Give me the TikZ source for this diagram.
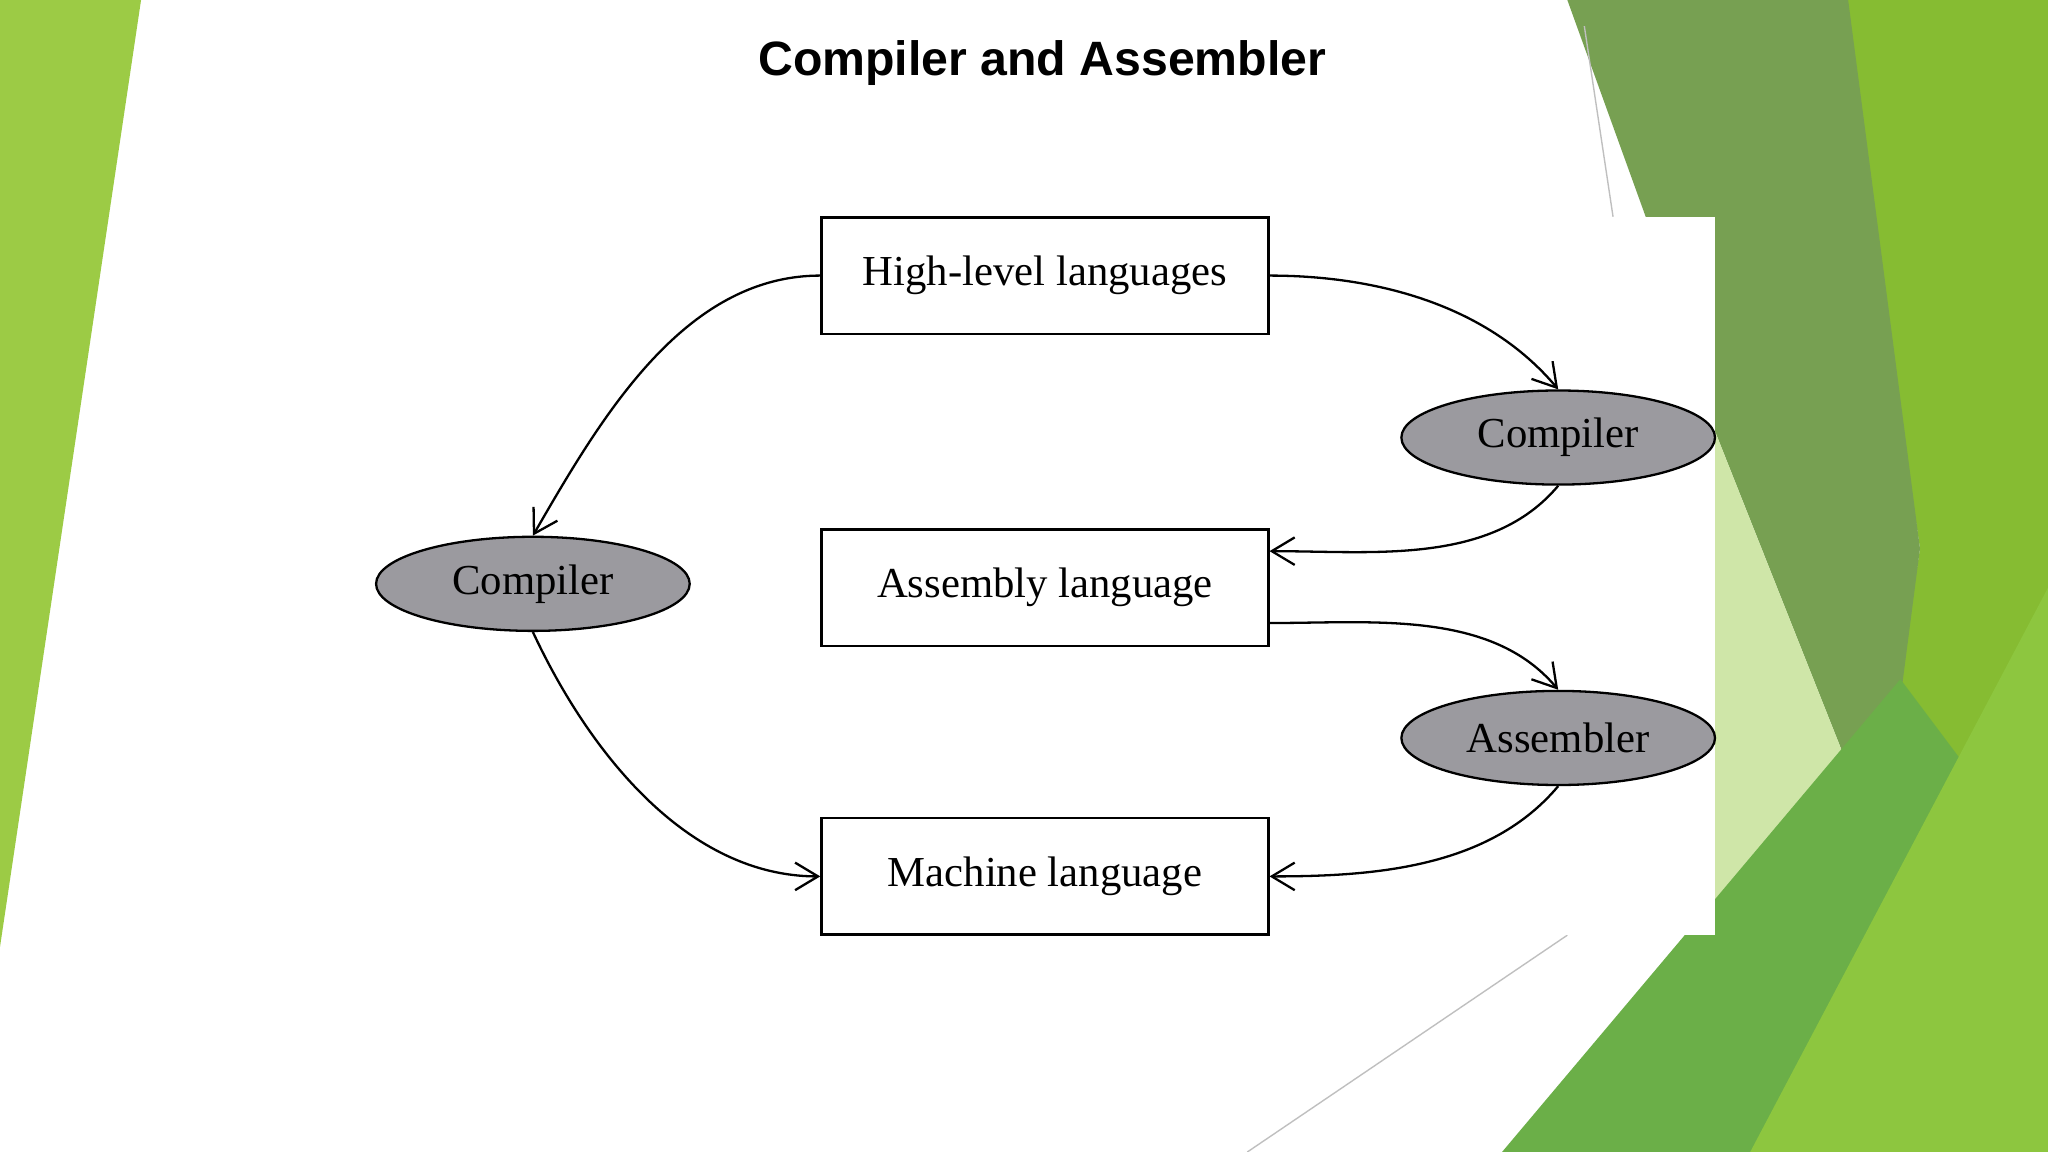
\documentclass[tikz,border=0pt]{standalone}
\usepackage{fontspec}
\setmainfont{Liberation Serif}
\newfontfamily\titlefont{Liberation Sans}
\usetikzlibrary{shapes.geometric,arrows.meta}
\definecolor{gA}{HTML}{77A052}
\definecolor{gB}{HTML}{86BC32}
\definecolor{gC}{HTML}{CFE6A8}
\definecolor{gD}{HTML}{6BAF48}
\definecolor{gE}{HTML}{8DC63F}
\definecolor{gL}{HTML}{9CCB45}
\definecolor{ell}{HTML}{9B9A9F}
\begin{document}
\begin{tikzpicture}[x=0.01cm,y=-0.01cm,
  box/.style={draw,line width=0.5pt,minimum width=3.42cm,minimum height=0.89cm,inner sep=0pt,font=\fontsize{9.3}{11}\selectfont},
  ov/.style={draw,ellipse,fill=ell,line width=0.5pt,minimum width=2.4cm,minimum height=0.72cm,inner sep=0pt,font=\fontsize{9.3}{11}\selectfont},
  arr/.style={line width=0.5pt,-{Straight Barb[length=5pt,width=6pt]}}]
\useasboundingbox (0,0) rectangle (1568,882);
\fill[white] (0,0) rectangle (1568,882);
% left decoration
\fill[gL] (0,0) -- (108,0) -- (0,725) -- cycle;
% right decoration
\fill[gB] (1408,0) -- (1568,0) -- (1568,882) -- (1400,882) -- (1470,420) -- cycle;
\fill[gA] (1200,0) -- (1415,0) -- (1470,420) -- (1440,650) -- (1313,330) -- (1260,166) -- cycle;
\fill[gC] (1313,330) -- (1440,650) -- (1313,716) -- cycle;
\fill[gD] (1150,882) -- (1455,520) -- (1500,580) -- (1400,882) -- cycle;
\fill[gE] (1340,882) -- (1568,450) -- (1568,882) -- cycle;
\draw[gray!50,line width=0.3pt] (955,882) -- (1200,716);
\draw[gray!50,line width=0.3pt] (1213,20) -- (1235,166);
% diagram panel
\fill[white] (140,166) rectangle (1313,716);
\node[font=\titlefont\bfseries\fontsize{10.5}{12}\selectfont] (title) at (798,48) {Compiler and Assembler};
\node[box] (hl) at (800,211) {High-level languages};
\node[box] (as) at (800,450) {Assembly language};
\node[box] (ml) at (800,671) {Machine language};
\node[ov] (c1) at (1193,335) {Compiler};
\node[ov] (c2) at (408,447) {Compiler};
\node[ov] (asm) at (1193,565) {Assembler};
\draw[arr] (hl.west) to[out=180,in=60,looseness=0.9] (c2.north);
\draw[arr] (c2.south) to[out=-65,in=180,looseness=0.9] (ml.west);
\draw[arr] (hl.east) to[out=0,in=130,looseness=0.9] (c1.north);
\draw[arr] (c1.south) to[out=-130,in=0,looseness=0.9] ([yshift=0.28cm]as.east);
\draw[arr] ([yshift=-0.27cm]as.east) to[out=0,in=130,looseness=0.9] (asm.north);
\draw[arr] (asm.south) to[out=-130,in=0,looseness=0.9] (ml.east);
\end{tikzpicture}
\end{document}
